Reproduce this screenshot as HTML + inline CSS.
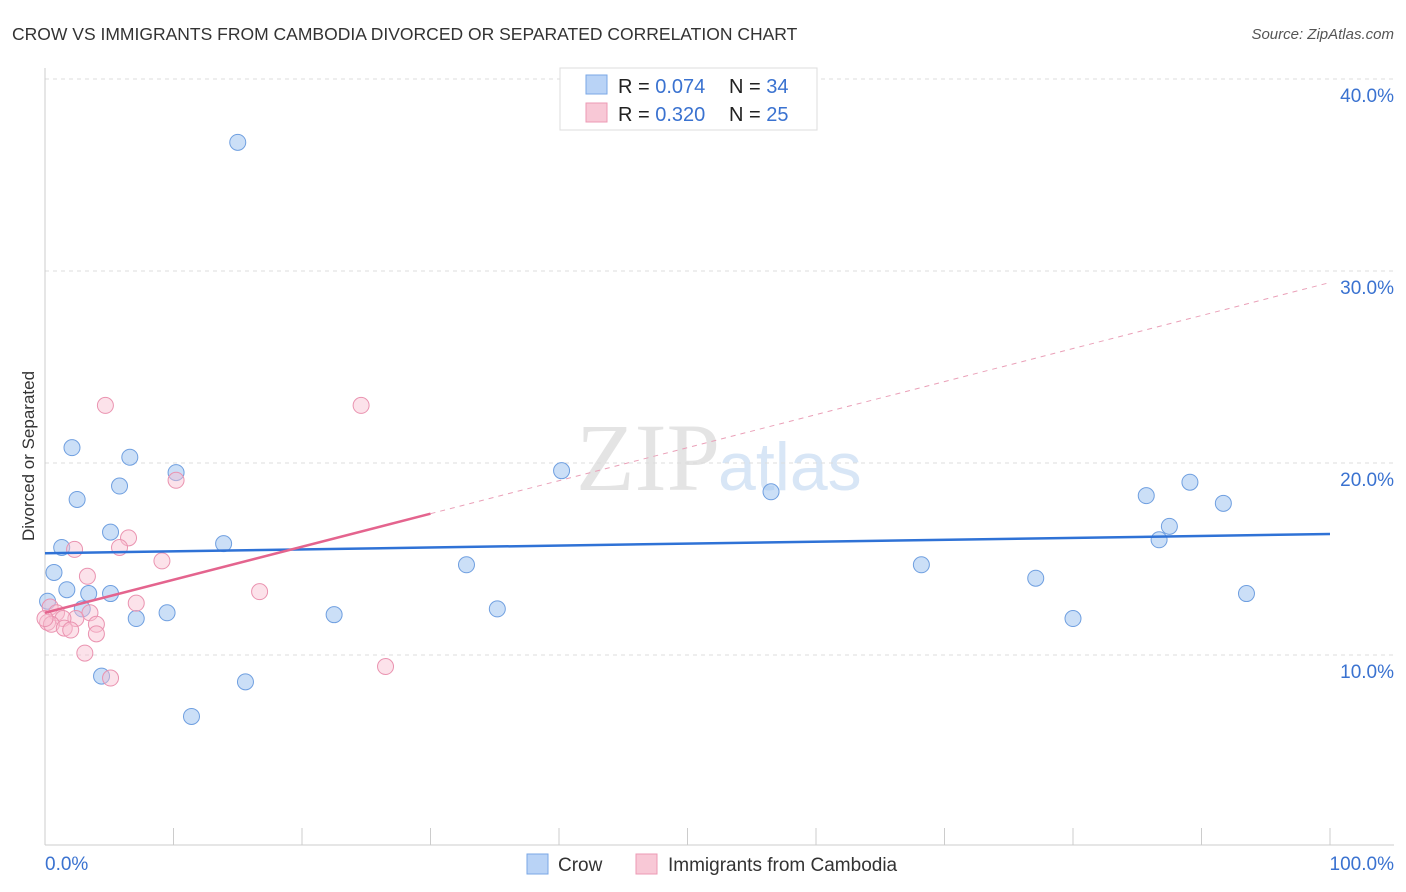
<!DOCTYPE html>
<html><head><meta charset="utf-8"><style>
body{margin:0;background:#fff;font-family:"Liberation Sans",sans-serif;}
svg{display:block}
</style></head><body>
<svg id="chart" width="1406" height="892">
<text x="12" y="40" font-size="17.5" fill="#333">CROW VS IMMIGRANTS FROM CAMBODIA DIVORCED OR SEPARATED CORRELATION CHART</text>
<text x="1394" y="39" font-size="15" fill="#555" font-style="italic" text-anchor="end">Source: ZipAtlas.com</text>
<text x="720" y="490" font-size="96" fill="#e4e4e4" text-anchor="end" font-family="Liberation Serif,serif">ZIP</text>
<text x="718" y="490" font-size="68" fill="#d8e6f6">atlas</text>
<g id="grid"></g>
<g id="axes"></g>
<g id="marks"></g>
<text x="34" y="456" font-size="17" fill="#333" text-anchor="middle" transform="rotate(-90 34 456)">Divorced or Separated</text>
<g>
<rect x="560" y="68" width="257" height="62" fill="#fff" stroke="#ddd"/>
<rect x="586" y="75" width="21" height="19" fill="#b9d3f6" stroke="#7aa7e6"/>
<rect x="586" y="103" width="21" height="19" fill="#f8c8d6" stroke="#ec9ab4"/>
<text x="618" y="93" font-size="20" fill="#222">R = <tspan fill="#3a72d0">0.074</tspan></text>
<text x="729" y="93" font-size="20" fill="#222">N = <tspan fill="#3a72d0">34</tspan></text>
<text x="618" y="121" font-size="20" fill="#222">R = <tspan fill="#3a72d0">0.320</tspan></text>
<text x="729" y="121" font-size="20" fill="#222">N = <tspan fill="#3a72d0">25</tspan></text>
</g>
<g>
<rect x="527" y="854" width="21" height="20" fill="#b9d3f6" stroke="#7aa7e6"/>
<text x="558" y="871" font-size="19" fill="#333">Crow</text>
<rect x="636" y="854" width="21" height="20" fill="#f8c8d6" stroke="#ec9ab4"/>
<text x="668" y="871" font-size="19" fill="#333">Immigrants from Cambodia</text>
</g>
</svg>
<script>
const crowX=[15.0,2.1,6.6,10.2,5.8,2.5,5.1,13.9,1.3,0.7,1.7,3.4,5.1,0.2,2.9,9.5,7.1,22.5,4.4,15.6,11.4,32.8,35.2,40.2,56.5,68.2,77.1,80.0,85.7,89.1,91.7,87.5,86.7,93.5];
const crowY=[36.7,20.8,20.3,19.5,18.8,18.1,16.4,15.8,15.6,14.3,13.4,13.2,13.2,12.8,12.4,12.2,11.9,12.1,8.9,8.6,6.8,14.7,12.4,19.6,18.5,14.7,14.0,11.9,18.3,19.0,17.9,16.7,16.0,13.2];
const camX=[4.7,24.6,10.2,6.5,2.3,5.8,9.1,3.3,16.7,7.1,0.4,0.9,3.5,2.4,1.4,0.2,4.0,0.5,1.5,2.0,4.0,3.1,5.1,26.5,0.0];
const camY=[23.0,23.0,19.1,16.1,15.5,15.6,14.9,14.1,13.3,12.7,12.5,12.2,12.2,11.9,11.9,11.7,11.6,11.6,11.4,11.3,11.1,10.1,8.8,9.4,11.9];
const crowTrend=[15.3,16.3];
const camTrend=[12.2,29.4];
const yTicks=[10,20,30,40];
const yTickLabels=["10.0%","20.0%","30.0%","40.0%"];
const xTicks=[0,10,20,30,40,50,60,70,80,90,100];
const NS="http://www.w3.org/2000/svg";
const sx=v=>45+v*12.85;
const sy=v=>847-v*19.2;
function mk(tag,attrs,parent){const e=document.createElementNS(NS,tag);for(const k in attrs)e.setAttribute(k,attrs[k]);document.getElementById(parent).appendChild(e);return e;}
yTicks.forEach((t,i)=>{
 const g=mk('line',{x1:45,x2:1394,y1:sy(t),y2:sy(t),stroke:'#ddd','stroke-dasharray':'4,4'},'grid');
 
 
 const l=mk('text',{x:1394,y:sy(t)+23,'font-size':19,fill:'#3a72d0','text-anchor':'end'},'axes');
 l.textContent=yTickLabels[i];
 
 
});
const ax=mk('line',{x1:45,x2:45,y1:68,y2:845,stroke:'#ccc'},'axes');


const bx=mk('line',{x1:45,x2:1394,y1:845,y2:845,stroke:'#ccc'},'axes');


xTicks.forEach(t=>{
 const k=mk('line',{x1:sx(t),x2:sx(t),y1:828,y2:845,stroke:'#ccc'},'axes');
 
 
});
const x0=mk('text',{x:45,y:870,'font-size':19,fill:'#3a72d0'},'axes');x0.textContent="0.0%";


const x1=mk('text',{x:1394,y:870,'font-size':19,fill:'#3a72d0','text-anchor':'end'},'axes');x1.textContent="100.0%";


crowX.forEach((v,i)=>{
 const c=mk('circle',{cx:sx(v),cy:sy(crowY[i]),r:8,fill:'rgba(160,196,240,0.55)',stroke:'#6f9fe0','stroke-width':1},'marks');
 
 
});
camX.forEach((v,i)=>{
 const c=mk('circle',{cx:sx(v),cy:sy(camY[i]),r:8,fill:'rgba(248,190,208,0.45)',stroke:'#ea93b0','stroke-width':1},'marks');
 
 
});
const ct=mk('line',{x1:sx(0),y1:sy(crowTrend[0]),x2:sx(100),y2:sy(crowTrend[1]),stroke:'#2f72d6','stroke-width':2.5},'marks');


const pAt=x=>camTrend[0]+(camTrend[1]-camTrend[0])*x/100;
const pt=mk('line',{x1:sx(0),y1:sy(pAt(0)),x2:sx(30),y2:sy(pAt(30)),stroke:'#e4648e','stroke-width':2.5},'marks');


const pd=mk('line',{x1:sx(30),y1:sy(pAt(30)),x2:sx(100),y2:sy(pAt(100)),stroke:'#eaa0b8','stroke-width':1,'stroke-dasharray':'5,5'},'marks');


</script>
</body></html>
